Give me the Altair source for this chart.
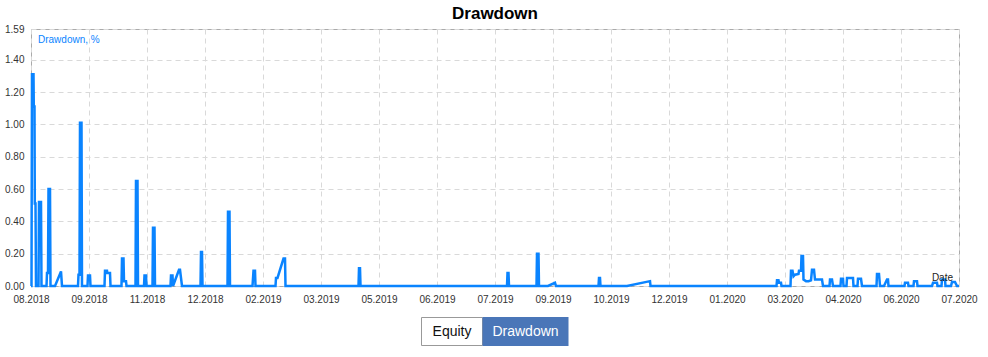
import altair as alt
import pandas as pd

# Deal index (sequence position) and drawdown value, %
deal = [0, 0.5, 1, 2.5, 2.8, 3.5, 3.8, 4.5, 5,
        7.5, 8, 10, 10.5,
        15.5, 16, 17, 17.5, 19, 19.5,
        24, 30, 31,
        47, 47.5, 48.5, 49, 50.5, 51,
        56.5, 57, 59, 59.5,
        73.5, 74, 76, 76.3, 79, 79.5,
        90.5, 91, 92.5, 93, 95, 95.5,
        104.5, 105, 106.5, 107,
        113, 113.5, 115, 115.5,
        121.5, 122, 123.5, 124,
        139.5, 140, 141.5, 142, 148, 149, 151,
        169.5, 170, 171, 171.5,
        196.5, 197, 198.5, 199,
        221.5, 222.5, 224, 224.5,
        244.5, 245, 246.5, 252.5, 254, 254.5,
        327.5, 328, 329, 329.5,
        476, 476.5, 477.5, 478,
        505.5, 506, 507.5, 508,
        517, 524, 525,
        567.5, 568, 569, 569.5,
        596, 619, 619.5,
        745.5, 746, 747.5, 748, 750, 750.5,
        759.5, 760, 761.5, 762.5, 764, 767.5, 768, 770, 770.5, 772, 772.5, 775, 777.5,
        780, 781, 783, 784, 786, 787, 791, 792,
        798.5, 799, 801, 802,
        809.5, 810, 812, 812.5,
        815.5, 816, 822, 822.5,
        826.5, 827, 830, 831,
        845.5, 846, 848, 849,
        853, 856, 857, 857.5,
        873.5, 874, 877, 877.5,
        882.5, 883, 886, 886.5,
        901, 902, 906, 906.5,
        910.5, 911, 914, 914.5,
        920, 921, 924, 926, 928]
drawdown = [0, 0, 1.31, 1.31, 1.11, 1.11, 0.51, 0.51, 0,
            0, 0.52, 0.52, 0,
            0, 0.08, 0.08, 0.60, 0.60, 0,
            0, 0.09, 0,
            0, 0.07, 0.07, 1.01, 1.01, 0,
            0, 0.065, 0.065, 0,
            0, 0.095, 0.095, 0.08, 0.08, 0,
            0, 0.17, 0.17, 0.03, 0.03, 0,
            0, 0.65, 0.65, 0,
            0, 0.065, 0.065, 0,
            0, 0.36, 0.36, 0,
            0, 0.065, 0.065, 0, 0.10, 0.10, 0,
            0, 0.21, 0.21, 0,
            0, 0.46, 0.46, 0,
            0, 0.095, 0.095, 0,
            0, 0.05, 0.05, 0.17, 0.17, 0,
            0, 0.11, 0.11, 0,
            0, 0.08, 0.08, 0,
            0, 0.20, 0.20, 0,
            0, 0.02, 0,
            0, 0.05, 0.05, 0,
            0, 0.03, 0,
            0, 0.035, 0.035, 0.02, 0.02, 0,
            0, 0.095, 0.095, 0.06, 0.07, 0.075, 0.095, 0.095, 0.185, 0.185, 0.04, 0.03, 0.03,
            0.035, 0.10, 0.10, 0.04, 0.04, 0.04, 0.04, 0,
            0, 0.04, 0.04, 0,
            0, 0.045, 0.045, 0,
            0, 0.05, 0.05, 0,
            0, 0.045, 0.045, 0,
            0, 0.075, 0.075, 0,
            0, 0.04, 0.04, 0,
            0, 0.02, 0.02, 0,
            0, 0.03, 0.03, 0,
            0, 0.02, 0.02, 0,
            0, 0.04, 0.04, 0,
            0, 0.025, 0.025, 0, 0]

date_labels = ["08.2018", "09.2018", "11.2018", "12.2018", "02.2019", "03.2019",
               "05.2019", "06.2019", "07.2019", "09.2019", "10.2019", "12.2019",
               "01.2020", "03.2020", "04.2020", "06.2020", "07.2020"]
deals_per_label = 58
y_ticks = [0, 0.2, 0.4, 0.6, 0.8, 1.0, 1.2, 1.4, 1.59]

df = pd.DataFrame({"deal": deal, "dd": drawdown, "order": list(range(len(deal)))})

FONT = "Liberation Sans"
W, H = 928, 257
BLUE = "#0a84ff"

label_arr = "[" + ",".join("'" + s + "'" for s in date_labels) + "]"
x_ticks = [i * deals_per_label for i in range(len(date_labels))]

line = alt.Chart(df).mark_line(color=BLUE, strokeWidth=2.5, strokeJoin="miter").encode(
    x=alt.X("deal:Q",
            scale=alt.Scale(domain=[0, x_ticks[-1]], nice=False, zero=False),
            axis=alt.Axis(values=x_ticks, labelExpr=label_arr + "[round(datum.value/" + str(deals_per_label) + ")]",
                          title=None, domain=False, ticks=False, labelPadding=8,
                          labelFont=FONT, labelFontSize=10, labelColor="#333333",
                          grid=True, gridColor="#d9d9d9", gridDash=[5, 4], gridWidth=1,
                          labelFlush=False, labelOverlap=False)),
    y=alt.Y("dd:Q",
            scale=alt.Scale(domain=[0, 1.59], nice=False),
            axis=alt.Axis(values=y_ticks, format=".2f", title=None, domain=False, ticks=False,
                          labelPadding=7, labelFont=FONT, labelFontSize=10, labelColor="#333333",
                          grid=True, gridColor="#d9d9d9", gridDash=[5, 4], gridWidth=1,
                          labelFlush=False, labelOverlap=False)),
    order="order:Q",
)

one = pd.DataFrame({"k": [0]})

title = alt.Chart(one).mark_text(text="Drawdown", font=FONT, fontSize=17, fontWeight="bold",
                                 color="#000000", align="center", baseline="alphabetic").encode(
    x=alt.value(W / 2), y=alt.value(-10.5))

legend = alt.Chart(one).mark_text(text="Drawdown, %", font=FONT, fontSize=10, color=BLUE,
                                  align="left", baseline="middle").encode(
    x=alt.value(7), y=alt.value(11))

date_txt = alt.Chart(one).mark_text(text="Date", font=FONT, fontSize=10, color="#222222",
                                    align="right", baseline="alphabetic").encode(
    x=alt.value(922), y=alt.value(252))

btn_eq = alt.Chart(one).mark_rect(fill="#ffffff", stroke="#999999", strokeWidth=1).encode(
    x=alt.value(390.5), x2=alt.value(451.5), y=alt.value(288.5), y2=alt.value(316.5))
btn_dd = alt.Chart(one).mark_rect(fill="#4a76b8").encode(
    x=alt.value(451.5), x2=alt.value(537.5), y=alt.value(288), y2=alt.value(317))
txt_eq = alt.Chart(one).mark_text(text="Equity", font=FONT, fontSize=14, color="#111111",
                                  align="center", baseline="middle").encode(
    x=alt.value(421), y=alt.value(302.5))
txt_dd = alt.Chart(one).mark_text(text="Drawdown", font=FONT, fontSize=14, color="#ffffff",
                                  align="center", baseline="middle").encode(
    x=alt.value(494.5), y=alt.value(302.5))

chart = alt.layer(line, title, legend, date_txt, btn_eq, btn_dd, txt_eq, txt_dd).properties(
    width=W, height=H,
    autosize=alt.AutoSizeParams(type="none"),
    padding={"left": 31, "top": 29, "right": 29, "bottom": 71},
    background="#ffffff",
).configure_view(stroke="#aaaaaa", strokeWidth=1)

chart.save("out.html", embed_options={"renderer": "svg", "actions": False})
